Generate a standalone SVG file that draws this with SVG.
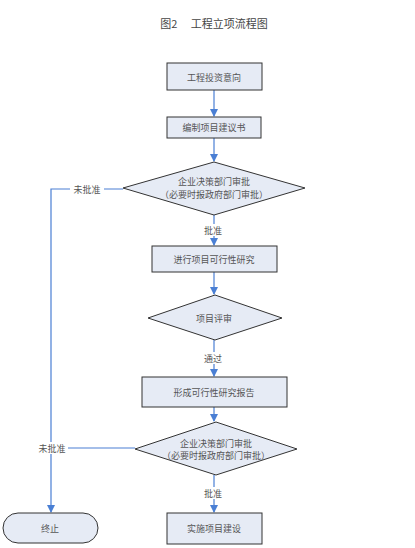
<svg xmlns="http://www.w3.org/2000/svg" width="415" height="548" viewBox="0 0 415 548">
<style>
.n{fill:#e6ebf5;stroke:#333;stroke-width:1}
.t{font-family:"Noto Sans CJK SC","Liberation Sans",sans-serif;font-size:9px;fill:#555;text-anchor:middle;dominant-baseline:central}
.c{fill:none;stroke:#4a7fd4;stroke-width:1.2}
.lb{fill:#fff}
</style>
<defs>
<marker id="a" markerWidth="8" markerHeight="8" refX="7" refY="4" orient="auto" markerUnits="userSpaceOnUse">
<path d="M0,0 L8,4 L0,8 Z" fill="#4a7fd4"/>
</marker>
</defs>
<rect width="415" height="548" fill="#fff"/>
<text x="214" y="23" class="t" style="font-size:11px;fill:#444">图2　 工程立项流程图</text>
<g id="connectors">
<line class="c" x1="214" y1="90" x2="214" y2="116" marker-end="url(#a)"/>
<line class="c" x1="214" y1="138" x2="214" y2="161" marker-end="url(#a)"/>
<line class="c" x1="214" y1="215" x2="214" y2="245" marker-end="url(#a)"/>
<line class="c" x1="214" y1="272" x2="214" y2="294" marker-end="url(#a)"/>
<line class="c" x1="214" y1="340" x2="214" y2="376" marker-end="url(#a)"/>
<line class="c" x1="214" y1="407" x2="214" y2="421" marker-end="url(#a)"/>
<line class="c" x1="214" y1="475" x2="214" y2="512" marker-end="url(#a)"/>
<polyline class="c" points="123,189 51,189 51,512" marker-end="url(#a)"/>
<line class="c" x1="135" y1="448" x2="51" y2="448"/>
<rect class="lb" x="199" y="224" width="30" height="12"/>
<text class="t" x="213" y="230">批准</text>
<rect class="lb" x="199" y="352" width="30" height="12"/>
<text class="t" x="213" y="358">通过</text>
<rect class="lb" x="199" y="487" width="30" height="12"/>
<text class="t" x="213" y="493">批准</text>
<rect class="lb" x="70" y="183" width="34" height="12"/>
<text class="t" x="87" y="189">未批准</text>
<rect class="lb" x="36" y="442" width="32" height="12"/>
<text class="t" x="52" y="448">未批准</text>
</g>
<g id="n1"><rect class="n" x="167" y="63" width="95" height="27"/><text class="t" x="214" y="77">工程投资意向</text></g>
<g id="n2"><rect class="n" x="167" y="117" width="94" height="21"/><text class="t" x="214" y="127">编制项目建议书</text></g>
<g id="n3"><polygon class="n" points="214,162 305,188 214,215 123,188"/><text class="t" x="214" y="181">企业决策部门审批</text><text class="t" x="214" y="194">（必要时报政府部门审批）</text></g>
<g id="n4"><rect class="n" x="152" y="246" width="125" height="26"/><text class="t" x="214" y="259">进行项目可行性研究</text></g>
<g id="n5"><polygon class="n" points="215,295 282,318 215,340 148,318"/><text class="t" x="214" y="318">项目评审</text></g>
<g id="n6"><rect class="n" x="142" y="377" width="145" height="30"/><text class="t" x="214" y="392">形成可行性研究报告</text></g>
<g id="n7"><polygon class="n" points="216,422 297,449 216,475 135,449"/><text class="t" x="216" y="443">企业决策部门审批</text><text class="t" x="216" y="455">（必要时报政府部门审批）</text></g>
<g id="n8"><rect class="n" x="167" y="513" width="95" height="31"/><text class="t" x="214" y="528">实施项目建设</text></g>
<g id="n9"><rect class="n" x="3" y="513" width="95" height="30" rx="15" ry="15"/><text class="t" x="50" y="528">终止</text></g>
</svg>
